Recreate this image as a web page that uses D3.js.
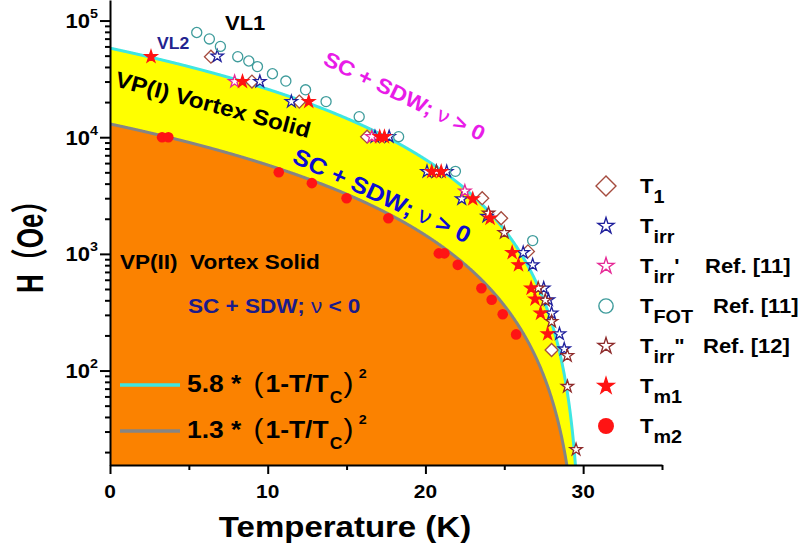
<!DOCTYPE html>
<html>
<head>
<meta charset="utf-8">
<script src="https://cdn.jsdelivr.net/npm/d3@7"></script>
<style>
  body { margin: 0; background: #fff; }
  svg text { font-family: "Liberation Sans", Arial, "Noto Sans CJK SC", sans-serif; font-weight: bold; }
</style>
</head>
<body>
<svg id="chart" width="806" height="553"></svg>
<script>
// ---- data (T in K, H in Oe) ----
const t1T = [6.4, 9.0, 12.0, 16.3, 23.6, 24.8, 26.5, 28.0];
const t1H = [49000, 30000, 20200, 10100, 3000, 2020, 1050, 150];

const tirrT = [6.8, 9.5, 11.5, 16.8, 17.7, 20.1, 20.7, 21.35, 22.3, 23.9, 26.2, 26.8, 27.5, 27.8, 28.0, 28.5, 28.8];
const tirrH = [49500, 30000, 20200, 10100, 10100, 5070, 5070, 5070, 2960, 2100, 1025, 805, 508, 404, 310, 206, 153];

const tirrPT = [7.9, 16.6, 22.5];
const tirrPH = [30000, 10100, 3450];

const tfotT = [5.5, 6.3, 7.0, 8.1, 8.8, 9.35, 10.3, 11.15, 12.4, 13.7, 15.8, 18.3, 21.9, 26.8];
const tfotH = [79000, 69500, 60000, 49000, 45000, 40300, 35000, 30300, 25500, 20200, 15000, 10100, 5100, 1300];

const tirr2T = [20.7, 24.0, 25.0, 27.15, 27.6, 28.0, 29.0, 29.0, 29.55];
const tirr2H = [5070, 2230, 1520, 508, 400, 263, 134, 73, 21];

const tm1T = [2.6, 8.4, 12.6, 17.1, 17.4, 20.4, 21.0, 23.0, 24.1, 25.5, 25.9, 26.7, 26.95, 27.3, 27.75];
const tm1H = [49000, 30000, 20200, 10100, 10100, 5070, 5070, 2960, 2020, 1025, 805, 508, 410, 310, 206];

const tm2T = [3.3, 3.7, 10.7, 12.8, 15.0, 17.65, 20.85, 21.2, 22.05, 23.55, 24.2, 24.9, 25.75];
const tm2H = [10000, 10000, 5000, 4040, 3000, 2020, 1010, 1010, 805, 508, 404, 304, 204];

// fits H = c * 1e4 * (1 - T/Tc)^2
const fitCoefs = [5.8, 1.3];
const fitTc = 30;

const xTicks = [0, 10, 20, 30];
const xMinor = [5, 15, 25, 35];
const yTicks = [1e2, 1e3, 1e4, 1e5];
const yExp = ['2', '3', '4', '5'];

const legendSubs = ['1', 'irr', "irr'", 'FOT', 'irr"', 'm1', 'm2'];
const legendRefs = ['', '', 'Ref. [11]', 'Ref. [11]', 'Ref. [12]', '', ''];

// ---- layout ----
const plotL = 110, plotR = 662, plotT = 0, plotB = 465;
const SX = 1.1; // glyphs in the figure are a little wide

const x = d3.scaleLinear().domain([0, 35]).range([plotL, plotR]);
const y = d3.scaleLog().domain([15.5, 150000]).range([plotB, plotT]);

const svg = d3.select('#chart');

svg.append('defs').append('clipPath').attr('id', 'plot')
  .append('rect').attr('x', plotL).attr('y', plotT)
  .attr('width', plotR - plotL).attr('height', plotB - plotT);

const styles = [
  { T: t1T, H: t1H, shape: 'diamond', stroke: '#a54b3e', fill: '#fff' },
  { T: tirrT, H: tirrH, shape: 'star', stroke: '#1f1f9c', fill: '#fff' },
  { T: tirrPT, H: tirrPH, shape: 'star', stroke: '#e62a96', fill: '#fff' },
  { T: tfotT, H: tfotH, shape: 'circle', stroke: '#3f9c9c', fill: 'none' },
  { T: tirr2T, H: tirr2H, shape: 'star', stroke: '#8e2b2b', fill: '#fff' },
  { T: tm1T, H: tm1H, shape: 'star', stroke: '#ff1212', fill: '#ff1212' },
  { T: tm2T, H: tm2H, shape: 'dot', stroke: 'none', fill: '#ff1414' },
];

function symbolPath(shape, big) {
  const k = big ? 1 : 0;
  if (shape === 'diamond') return d3.symbol(d3.symbolSquare, [84, 200][k])();
  if (shape === 'star') return d3.symbol(d3.symbolStar, [47, 80][k])();
  if (shape === 'circle') return d3.symbol(d3.symbolCircle, [80, 160][k])();
  return d3.symbol(d3.symbolCircle, [88, 200][k])();
}

function label(px, py, size, opts = {}) {
  return svg.append('text')
    .attr('transform', `translate(${px},${py}) rotate(${opts.rotate || 0}) scale(${opts.sx || SX},${opts.sy || 1})`)
    .attr('font-size', size)
    .attr('text-anchor', opts.anchor || 'start')
    .attr('fill', opts.color || '#000');
}

// ---- phase regions ----
const fitT = d3.range(0, fitTc + 1e-9, 0.02);
const fitData = fitCoefs.map(c => fitT.map(t => [t, Math.max(1, c * 1e4 * (1 - t / fitTc) ** 2)]));
const regionColors = ['#ffff00', '#fb8200'];
const lineColors = ['#3fe6e2', '#858585'];

const area = d3.area().x(d => x(d[0])).y0(plotB).y1(d => y(d[1]));
const line = d3.line().x(d => x(d[0])).y(d => y(d[1]));

const regions = svg.append('g').attr('clip-path', 'url(#plot)');
fitData.forEach((pts, i) => {
  regions.append('path').attr('d', area(pts)).attr('fill', regionColors[i]);
});
fitData.forEach((pts, i) => {
  regions.append('path').attr('d', line(pts)).attr('fill', 'none')
    .attr('stroke', lineColors[i]).attr('stroke-width', 3);
});

// ---- axes ----
const gx = svg.append('g').attr('transform', `translate(0,${plotB})`);
gx.call(d3.axisBottom(x).tickValues(xTicks).tickSize(9).tickSizeOuter(0).tickFormat(''));
gx.append('g').call(d3.axisBottom(x).tickValues(xMinor).tickSize(5).tickSizeOuter(0).tickFormat(''));

const yMinor = [];
[10, 100, 1000, 10000].forEach(d => d3.range(2, 10).forEach(m => { if (m * d >= 15.5) yMinor.push(m * d); }));
const gy = svg.append('g').attr('transform', `translate(${plotL},0)`);
gy.call(d3.axisLeft(y).tickValues(yTicks).tickSize(10).tickSizeOuter(0).tickFormat(''));
gy.append('g').call(d3.axisLeft(y).tickValues(yMinor).tickSize(5).tickSizeOuter(0).tickFormat(''));

svg.selectAll('.domain, .tick line').attr('stroke', '#000').attr('stroke-width', 2);
svg.selectAll('g g .domain').remove();

xTicks.forEach(v => label(x(v), 498, 19, { anchor: 'middle' }).text(v));
yTicks.forEach((v, i) => {
  const t = label(98, y(v) + 7.5, 20, { anchor: 'end' });
  t.append('tspan').text('10');
  t.append('tspan').attr('font-size', 13).attr('dy', -10).text(yExp[i]);
});

label(345, 537, 30, { anchor: 'middle' }).text('Temperature (K)');
label(43, 293, 26, { rotate: -90, sx: 1, sy: 1.45 }).text('H（Oe）');

// ---- data points ----
styles.forEach(s => {
  svg.append('g').selectAll('path').data(d3.zip(s.T, s.H)).join('path')
    .attr('d', symbolPath(s.shape, false))
    .attr('transform', d => `translate(${x(d[0])},${y(d[1])})${s.shape === 'diamond' ? ' rotate(45)' : ''}`)
    .attr('fill', s.fill).attr('stroke', s.stroke).attr('stroke-width', 1.3);
});

// ---- annotations ----
label(225, 30, 20).text('VL1');
label(157, 48.5, 16, { color: '#23238f' }).text('VL2');
label(114, 86, 22, { rotate: 15 }).text('VP(I) Vortex Solid');
label(120, 268.5, 20.5).text('VP(II)\u00a0\u00a0Vortex Solid');

function scText(t, sign) {
  t.append('tspan').text('SC + SDW; ');
  t.append('tspan').attr('font-weight', 'normal').text('ν');
  t.append('tspan').text(` ${sign} 0`);
}
scText(label(322, 64, 21, { rotate: 26, color: '#e81ce8' }), '>');
scText(label(291, 162, 23, { rotate: 25, color: '#0c0cd0' }), '>');
scText(label(188, 313, 20.5, { color: '#1b1b8a' }), '<');

// fit legend
const fitLabelY = [392, 438];
const fitLineY = [385, 431];
fitCoefs.forEach((c, i) => {
  svg.append('line').attr('x1', 120).attr('x2', 180).attr('y1', fitLineY[i]).attr('y2', fitLineY[i])
    .attr('stroke', lineColors[i]).attr('stroke-width', 3.5);
  const t = label(187, fitLabelY[i], 24);
  t.append('tspan').text(`${c} *`);
  t.append('tspan').attr('font-size', 27).attr('font-weight', 'normal').attr('dx', 11).text('(');
  t.append('tspan').attr('dx', 2).text('1-T/T');
  t.append('tspan').attr('font-size', 16).attr('dx', 1).attr('dy', 11).text('C');
  t.append('tspan').attr('font-size', 27).attr('font-weight', 'normal').attr('dx', 1).attr('dy', -11).text(')');
  t.append('tspan').attr('font-size', 13).attr('dx', 5).attr('dy', -14).text('2');
});

// symbol legend
styles.forEach((s, i) => {
  const cy = 186 + 40 * i;
  svg.append('path').attr('d', symbolPath(s.shape, true))
    .attr('transform', `translate(606,${cy})${s.shape === 'diamond' ? ' rotate(45)' : ''}`)
    .attr('fill', s.fill).attr('stroke', s.stroke).attr('stroke-width', 1.4);
  const t = label(640, cy + 7, 20);
  const sub = legendSubs[i];
  const prime = sub.match(/['"]$/);
  t.append('tspan').text('T');
  t.append('tspan').attr('font-size', 18).attr('dy', 10).text(prime ? sub.slice(0, -1) : sub);
  if (prime) t.append('tspan').attr('dy', -10).text(prime[0]);
});
const refX = [0, 0, 705, 713, 703, 0, 0];
legendRefs.forEach((r, i) => {
  if (r) label(refX[i], 186 + 40 * i + 7, 20).text(r);
});
</script>
</body>
</html>
